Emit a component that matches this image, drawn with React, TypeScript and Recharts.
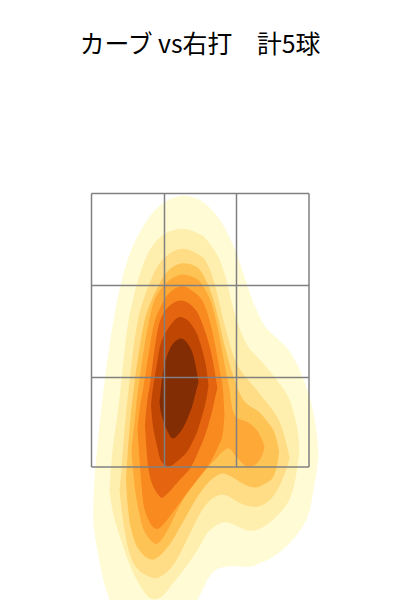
import { ComposedChart, Area, XAxis, YAxis, ReferenceLine } from "recharts";

// density contours of pitch location, in cm: x across the plate, y above the ground
const LEVEL_COLORS = ["#fffbd5", "#ffefae", "#ffdd87", "#fec355", "#fea937", "#f98a20", "#e4640f", "#c04604", "#832d04"];

const c1X = [-21.4, -21.1, -20.6, -20, -19, -18, -17, -15.6, -14, -10.6, -7.4, -3.4, -0.6, 0.6, 2, 4, 7, 8.6, 10.4, 12.6, 14, 16.6, 17.4, 19.4, 20.6, 22, 22.6, 23.4, 23.7];
const c1Top = [17, 25, 30, 36, 44.6, 51.6, 58, 64.4, 70, 76.4, 79.8, 81.2, 80.4, 79.6, 78.4, 76.4, 70.4, 65.6, 60, 55, 53.6, 51.2, 50.6, 47.4, 44.4, 40.6, 38, 33.4, 29];
const c1Bottom = [17, 13, 10.4, 7, 2.4, 0, -2.4, -5, -6.4, -8, -8, -6, 0, 2, 5.4, 6.6, 6.8, 6.6, 6.6, 7.6, 8.2, 10, 10.8, 13, 14.6, 17.6, 21.4, 26, 29];

const c2X = [-18.1, -17.6, -16.6, -15.6, -14.6, -13.4, -12.6, -10.6, -9, -7.4, -5.4, -3.4, -1.4, 0.6, 1.4, 4, 5.6, 7, 9.4, 10.6, 12.6, 15.4, 17.4, 18.6, 19.6, 19.9];
const c2Top = [22, 30, 36, 44.6, 55, 60, 63.6, 69.4, 71.6, 73.2, 74, 74.4, 73.8, 73, 72, 68.6, 63, 56.4, 50.6, 49.6, 47.4, 44, 41.4, 38.4, 34, 30];
const c2Bottom = [22, 18, 14.4, 11.4, 8.4, 5.4, 4, 0.4, 0, 0.6, 3.4, 5.8, 8.6, 11.8, 13.6, 15.6, 15.6, 15, 13.8, 13.8, 14.4, 16.6, 19, 21.4, 27, 30];

const c3X = [-16.1, -15.7, -15, -14, -12.8, -11.4, -10, -9, -7.4, -5.4, -3.4, -1.4, 0.6, 1.4, 3, 4.6, 6, 7.4, 10.6, 13.4, 15.4, 16.6, 17.6, 17.9];
const c3Top = [22, 26, 36, 44.6, 55, 60, 63.6, 66, 68.4, 69.8, 70.5, 69.8, 68.6, 67.6, 63.6, 56, 51, 46.4, 43, 39.4, 37, 34, 30, 28.4];
const c3Bottom = [22, 18, 13, 8.6, 6.4, 5.2, 4.6, 4.2, 4.8, 6.6, 10.4, 14.6, 18.4, 19.4, 20.8, 21.2, 20.6, 19.6, 18.2, 19.2, 21.6, 24.4, 27, 28.4];

const c4X = [-14.8, -14.5, -14, -13, -12.6, -11.4, -10.4, -9, -7, -5.4, -3.4, -0.6, 0.4, 2.4, 4, 4.6, 6.6, 8, 9, 10.6, 12, 14, 14.8, 15.5, 15.8];
const c4Top = [24, 29, 36, 44.6, 47, 55, 58.4, 61.6, 65.4, 66.8, 67.6, 66.8, 65.6, 61.6, 55, 52, 44.6, 41, 39.4, 38.4, 37.6, 35, 34, 31.6, 29.6];
const c4Bottom = [24, 19, 14.6, 11.4, 10.6, 9, 8.2, 7.9, 9.8, 12, 15.6, 20.6, 22, 24.4, 25.2, 25.4, 24.6, 23.6, 23, 22.4, 22.6, 23.8, 24.6, 27, 29.6];

const c5X = [-13.7, -13.3, -13, -12.6, -12, -11.6, -10.4, -9.4, -8.6, -7.4, -5.4, -3.4, -0.6, 0.6, 2.4, 3.4, 4.4, 5.4, 6, 6.4, 7.4, 8.6, 9.6, 11, 12.4, 12.9];
const c5Top = [30, 34, 36, 41, 44.6, 48, 55, 59.6, 61, 63, 64.6, 65.4, 64.4, 63, 59.6, 55, 50, 44.6, 42, 37.6, 36.2, 36, 35.6, 34.6, 32.4, 30.6];
const c5Bottom = [30, 24.6, 22, 19.4, 16.6, 14.6, 12.4, 11.4, 11, 12.2, 16, 20.4, 24, 25.6, 27.4, 28.4, 29.6, 30.4, 30.4, 29.8, 28.4, 27.2, 26.4, 26.8, 28.4, 30.6];

const c6X = [-12.5, -12.1, -11.8, -11.4, -11, -10, -9.2, -8.4, -7, -5.4, -3.6, -2.6, -0.4, 0.6, 1.6, 2.4, 3.6, 4.2, 4.6, 4.9];
const c6Top = [34, 38, 40, 42, 44.6, 51, 55.6, 57.6, 60.6, 62.2, 63, 62.6, 61, 60, 57, 54.4, 48, 44.6, 43, 37];
const c6Bottom = [34, 28, 24, 19.4, 17.6, 15.2, 14.4, 14, 15.4, 17.6, 20, 21.4, 24.2, 25.4, 26.8, 28, 30.6, 31.8, 33, 37];

const c7X = [-11, -10.7, -10.4, -10, -9.4, -8.4, -7.6, -7, -5.6, -3.6, -2, -0.6, 0.6, 1.6, 2.6, 3.2, 3.5];
const c7Top = [35, 39, 41, 43, 48, 55, 56.8, 58, 59.4, 60.2, 59.2, 58, 55, 52, 48, 44, 42.4];
const c7Bottom = [35, 30, 26.6, 24.4, 22.6, 21, 20.2, 20.8, 22.2, 24.6, 26, 29, 31.8, 34.6, 38.4, 41.4, 42.4];

const c8X = [-9.8, -9.5, -9, -8.4, -8, -7.4, -6.4, -5, -4, -2.6, -1.6, -0.6, 0, 1.2, 1.7];
const c8Top = [39, 42, 45, 48.4, 51, 52.6, 54.4, 56.2, 56.8, 56.2, 55, 53.4, 51.6, 47.4, 43];
const c8Bottom = [39, 35, 32.6, 30, 28, 27.2, 26.4, 27.4, 28.2, 29.4, 31.4, 33.4, 35.4, 39.4, 43];

const c9X = [-8.1, -7.9, -7.6, -7, -6, -5.4, -4.4, -3.6, -2.6, -1.6, -1, -0.5, -0.3];
const c9Top = [39.6, 41.5, 44.5, 48, 50.4, 51.4, 52.2, 52.4, 51.6, 50, 47.6, 44.8, 43.6];
const c9Bottom = [39.6, 37.8, 36.6, 34.6, 32.8, 32, 33, 34, 36, 38.4, 41, 42.8, 43.6];

// strike zone grid
const zoneX = [-21.7, -7.1, 7.3, 21.8];
const zoneY = [26.6, 44.5, 62.9, 81.3];

const toRows = (xs: number[], top: number[], bottom: number[]) =>
  xs.map((x, i) => ({ x, range: [bottom[i], top[i]] }));

const LEVELS = [
  toRows(c1X, c1Top, c1Bottom),
  toRows(c2X, c2Top, c2Bottom),
  toRows(c3X, c3Top, c3Bottom),
  toRows(c4X, c4Top, c4Bottom),
  toRows(c5X, c5Top, c5Bottom),
  toRows(c6X, c6Top, c6Bottom),
  toRows(c7X, c7Top, c7Bottom),
  toRows(c8X, c8Top, c8Bottom),
  toRows(c9X, c9Top, c9Bottom),
];

const GRID_STROKE = "#808080";

export default function App() {
  return (
    <div style={{ position: "absolute", left: 0, top: 0, width: 400, height: 600, overflow: "hidden", background: "#fff" }}>
      <div
        style={{
          position: "absolute",
          top: 24,
          width: 400,
          textAlign: "center",
          whiteSpace: "pre",
          fontFamily: "'Noto Sans CJK JP', sans-serif",
          fontSize: 24.8,
          lineHeight: "36px",
          color: "#000",
        }}
      >
        カーブ vs右打　計5球
      </div>
      <ComposedChart width={400} height={600} margin={{ top: 0, right: 0, bottom: 0, left: 0 }}>
        <XAxis type="number" dataKey="x" domain={[-40, 40]} hide allowDataOverflow />
        <YAxis type="number" domain={[0, 120]} hide allowDataOverflow />
        {LEVELS.map((rows, i) => (
          <Area
            key={i}
            data={rows}
            dataKey="range"
            type="basis"
            fill={LEVEL_COLORS[i]}
            fillOpacity={1}
            stroke="none"
            dot={false}
            activeDot={false}
            isAnimationActive={false}
          />
        ))}
        {zoneX.map((x) => (
          <ReferenceLine
            key={x}
            segment={[
              { x, y: zoneY[0] },
              { x, y: zoneY[3] },
            ]}
            stroke={GRID_STROKE}
            strokeWidth={1.5}
          />
        ))}
        {zoneY.map((y) => (
          <ReferenceLine
            key={y}
            segment={[
              { x: zoneX[0], y },
              { x: zoneX[3], y },
            ]}
            stroke={GRID_STROKE}
            strokeWidth={1.5}
          />
        ))}
      </ComposedChart>
    </div>
  );
}
